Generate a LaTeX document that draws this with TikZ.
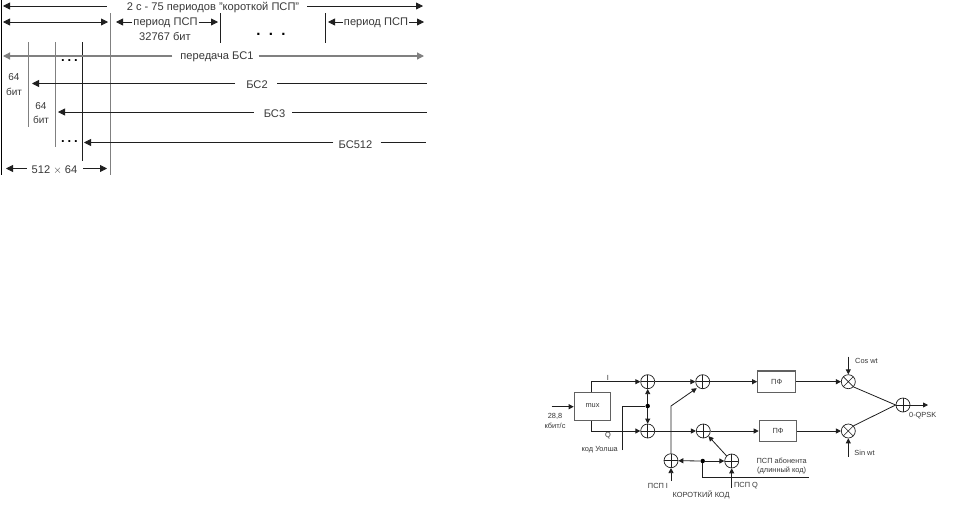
\documentclass[tikz,border=0pt]{standalone}
\usepackage{fontspec}
\setmainfont{Liberation Sans}
\usetikzlibrary{arrows.meta,calc}
\definecolor{txt}{gray}{0.22}
\definecolor{lin}{gray}{0.12}
\definecolor{glin}{gray}{0.5}
\tikzset{
  tip/.style={-{Triangle[length=7pt,width=7pt]}},
  tips/.style={{Triangle[length=7pt,width=7pt]}-{Triangle[length=7pt,width=7pt]}},
  stip/.style={-{Triangle[length=5pt,width=5pt]}},
  wire/.style={draw=lin,line width=0.8pt},
  grayw/.style={draw=glin,line width=1.2pt},
  big/.style={font=\fontsize{11.1}{12}\selectfont,text=txt,inner sep=0pt,yshift=-1.2pt},
  small/.style={font=\fontsize{7.4}{8}\selectfont,text=txt,inner sep=0pt},
  dotsb/.style={font=\fontsize{13}{13}\selectfont\bfseries,text=black,inner sep=0pt},
  blk/.style={draw=black!62,line width=1.1pt,fill=white,inner sep=0pt,font=\fontsize{7.4}{8}\selectfont,text=txt},
  adder/.style={circle,draw=lin,line width=0.7pt,minimum size=14pt,inner sep=0pt,
    path picture={\draw[lin,line width=0.6pt] (path picture bounding box.north)--(path picture bounding box.south)
      (path picture bounding box.west)--(path picture bounding box.east);}},
  mixer/.style={circle,draw=lin,line width=0.7pt,minimum size=14pt,inner sep=0pt,
    path picture={\draw[lin,line width=0.6pt] (path picture bounding box.north west)--(path picture bounding box.south east)
      (path picture bounding box.south west)--(path picture bounding box.north east);}},
  junct/.style={circle,fill=black,minimum size=4.5pt,inner sep=0pt},
}
\begin{document}
\begin{tikzpicture}[x=1pt,y=-1pt]
\useasboundingbox (0,0) rectangle (954,504);
\fill[white] (0,0) rectangle (954,504);
% --- upper timing diagram: coordinates
\coordinate (l0) at (1,0); \coordinate (l1) at (1,175);
\coordinate (a1l) at (3,6); \coordinate (a1r) at (423,6);
\coordinate (a2l) at (3,22); \coordinate (a2r) at (108,22);
\coordinate (v1t) at (110,13); \coordinate (v1b) at (110,175);
\coordinate (v2t) at (220.5,13); \coordinate (v2b) at (220.5,43);
\coordinate (v3t) at (325.5,13); \coordinate (v3b) at (325.5,43);
\coordinate (v4t) at (28,42); \coordinate (v4b) at (28,127);
\coordinate (v5t) at (55,42); \coordinate (v5b) at (55,147);
\coordinate (v6t) at (82,42); \coordinate (v6b) at (82,161);
\coordinate (p1l) at (116,22); \coordinate (p1r) at (218,22);
\coordinate (p2l) at (328,22); \coordinate (p2r) at (424,22);
\coordinate (b1l) at (3,56); \coordinate (b1r) at (424,56);
\coordinate (b2l) at (32,83.5); \coordinate (b2r) at (427,83.5);
\coordinate (b3l) at (58,112); \coordinate (b3r) at (427,112);
\coordinate (b4l) at (84,142.5); \coordinate (b4r) at (426,142.5);
\coordinate (w1l) at (6,168.5); \coordinate (w1r) at (107,168.5);
% texts
\node[big] (t1) at (213,6.5) {2 с - 75 периодов "короткой ПСП"};
\node[big] (t2) at (165.5,21.5) {период ПСП};
\node[big] (t3) at (165,35.5) {32767 бит};
\node[big] (t4) at (376,21.5) {период ПСП};
\node[big] (t5) at (217,56) {передача БС1};
\node[big] (t6) at (257,83.5) {БС2};
\node[big] (t7) at (274.5,112) {БС3};
\node[big] (t8) at (355.5,143) {БС512};
\node[big] (t9) at (54.5,168.5) {512 $\times$ 64};
\node[big,align=center,font=\fontsize{10}{14.5}\selectfont] (t10) at (14,83.5) {64\\бит};
\node[big,align=center,font=\fontsize{10}{14.5}\selectfont] (t11) at (41,112) {64\\бит};
% lines
\draw[black,line width=0.9pt] (l0)--(l1);
\draw[glin,line width=0.8pt] (v1t)--(v1b);
\draw[lin,line width=0.8pt] (v2t)--(v2b);
\draw[lin,line width=0.8pt] (v3t)--(v3b);
\draw[glin,line width=0.8pt] (v4t)--(v4b);
\draw[glin,line width=0.8pt] (v5t)--(v5b);
\draw[lin,line width=0.8pt] (v6t)--(v6b);
\draw[wire,tip] (a1l -| t1.west)++(-20,0) -- (a1l);
\draw[wire,tip] (a1r -| t1.east)++(8,0) -- (a1r);
\draw[wire,tips] (a2l)--(a2r);
\draw[wire,tip] (p1l -| t2.west)++(-1,0) -- (p1l);
\draw[wire,tip] (p1r -| t2.east)++(1,0) -- (p1r);
\draw[wire,tip] (p2l -| t4.west)++(-1,0) -- (p2l);
\draw[wire,tip] (p2r -| t4.east)++(1,0) -- (p2r);
\draw[grayw,tip] (b1l -| t5.west)++(-8,0) -- (b1l);
\draw[grayw,tip] (b1r -| t5.east)++(5,0) -- (b1r);
\draw[wire,tip] (b2l -| t6.west)++(-11,0) -- (b2l);
\draw[wire] (b2r -| t6.east)++(9.5,0) -- (b2r);
\draw[wire,tip] (b3l -| t7.west)++(-10,0) -- (b3l);
\draw[wire] (b3r -| t7.east)++(7,0) -- (b3r);
\draw[wire,tip] (b4l -| t8.west)++(-5,0) -- (b4l);
\draw[wire] (b4r -| t8.east)++(8,0) -- (b4r);
\draw[wire,tip] (w1l -| t9.west)++(-5,0) -- (w1l);
\draw[wire,tip] (w1r -| t9.east)++(6,0) -- (w1r);
\node[dotsb,font=\fontsize{15}{15}\selectfont\bfseries] (d1) at (271,34) {.\hspace{8.3pt}.\hspace{8.3pt}.};
\node[dotsb,font=\fontsize{13}{13}\selectfont\bfseries] (d2) at (69.5,61) {.\hspace{2.9pt}.\hspace{2.9pt}.};
\node[dotsb,font=\fontsize{13}{13}\selectfont\bfseries] (d3) at (69.5,142) {.\hspace{2.9pt}.\hspace{2.9pt}.};
% --- lower block diagram
\node[blk,minimum width=36.5pt,minimum height=28pt] (mux) at (592.5,406.7) {\raisebox{2pt}{mux}};
\node[blk,minimum width=38pt,minimum height=21.5pt] (pf1) at (776.7,381.7) {ПФ};
\node[blk,minimum width=37.5pt,minimum height=21.5pt] (pf2) at (778,431) {ПФ};
\node[adder] (a1) at (647.7,381.7) {};
\node[adder] (a2) at (647.7,431) {};
\node[adder] (a3) at (702.7,381.7) {};
\node[adder] (a4) at (703.3,431) {};
\node[adder] (a5) at (671,460.7) {};
\node[adder] (a6) at (731.7,461) {};
\node[adder] (a7) at (903,405) {};
\node[mixer] (m1) at (848.3,381.7) {};
\node[mixer] (m2) at (848.3,431) {};
\node[junct] (j1) at (647.7,406) {};
\node[junct] (j2) at (702.7,461) {};
\coordinate (in) at (551.7,406.7);
\coordinate (iup) at (591.7,381.7);
\coordinate (qdn) at (591.7,431);
\coordinate (wa) at (622,450);
\coordinate (wb) at (622,406);
\coordinate (bend) at (671,406);
\coordinate (pi) at (671,481);
\coordinate (pq) at (731.7,488);
\coordinate (cos) at (848.3,356.7);
\coordinate (sin) at (848.3,456.7);
\coordinate (out) at (928,405);
\coordinate (lc1) at (702.7,477);
\coordinate (lc2) at (809,477);
\coordinate (a3in) at ($(a3)+(-6,6.5)$);
\draw[wire,stip] (in)--(mux.west);
\draw[wire,stip] (mux.north -| iup) -- (iup) -- (a1.west);
\draw[wire,stip] (mux.south -| qdn) -- (qdn) -- (a2.west);
\draw[wire] (wa)--(wb)--(j1);
\draw[wire,stip] (j1)--(a1.south);
\draw[wire,stip] (j1)--(a2.north);
\draw[wire,stip] (a1.east)--(a3.west);
\draw[wire,stip] (a2.east)--(a4.west);
\draw[wire,stip] (a5.north)--(bend)--(a3in);
\draw[wire,stip] (pi)--(a5.south);
\draw[wire,stip] (j2)--(a5.east);
\draw[wire,stip] (j2)--(a6.west);
\draw[wire] (j2)--(lc1)--(lc2);
\draw[wire,stip] (pq)--(a6.south);
\draw[wire,stip] (a6.north west)--(a4.south east);
\draw[wire,stip] (a3.east)--(pf1.west);
\draw[wire,stip] (a4.east)--(pf2.west);
\draw[wire,stip] (pf1.east)--(m1.west);
\draw[wire,stip] (pf2.east)--(m2.west);
\draw[wire,stip] (cos)--(m1.north);
\draw[wire,stip] (sin)--(m2.south);
\draw[wire] (m1.south east)--(a7.west);
\draw[wire] (m2.north east)--(a7.west);
\draw[wire,stip] (a7.east)--(out);
\node[small] (l1a) at (555,416) {28,8};
\node[small] (l1b) at (555,426) {кбит/с};
\node[small] (li) at (608,378) {I};
\node[small] (lq) at (608,436) {Q};
\node[small,anchor=east] (lw) at (618,449.5) {код Уолша};
\node[small] (lp1) at (658,485.7) {ПСП I};
\node[small,anchor=west] (lp2) at (672.5,495) {КОРОТКИЙ КОД};
\node[small] (lp3) at (746,485.7) {ПСП Q};
\node[small] (lp4) at (781.7,460.7) {ПСП абонента};
\node[small] (lp5) at (781.7,470.5) {(длинный код)};
\node[small] (lc) at (866.5,360.5) {Cos wt};
\node[small] (ls) at (864.5,453) {Sin wt};
\node[small] (lo) at (922.7,415.7) {0-QPSK};
\end{tikzpicture}
\end{document}
